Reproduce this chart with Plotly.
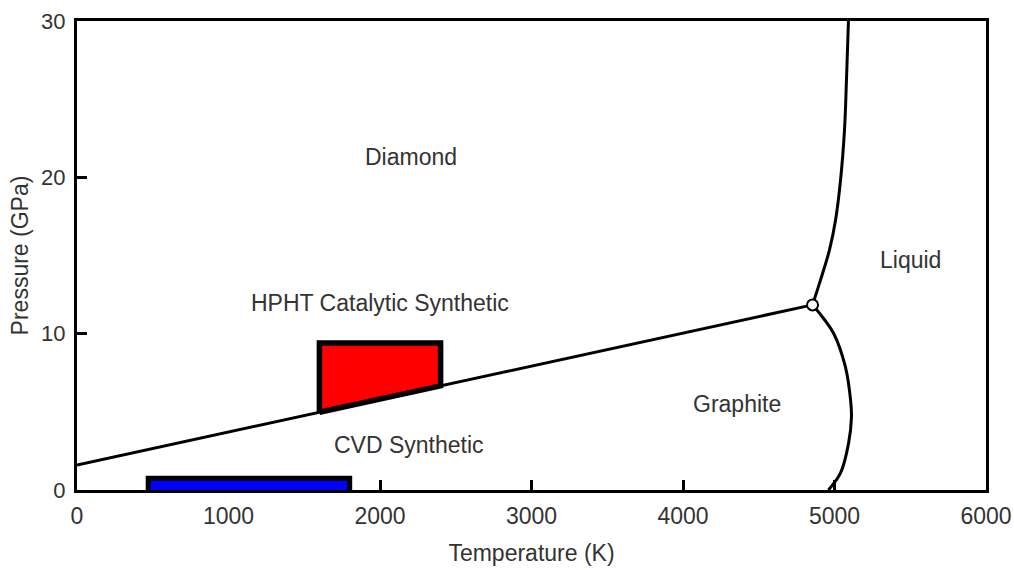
import numpy as np
import plotly.graph_objects as go

# Diamond-graphite coexistence line (T in K, P in GPa)
dg_T = [0, 4855]
dg_P = [1.6, 11.84]

# Triple point
triple_T = [4855]
triple_P = [11.84]

# Diamond-liquid melting curve
dl_T = [4855, 4908, 4967, 5007, 5040, 5066, 5079, 5092]
dl_P = [11.84, 13.44, 15.36, 17.27, 19.83, 23.03, 26.23, 30.0]

# Graphite-liquid melting curve
gl_T = [4855, 4894, 4993, 5072, 5106, 5112, 5093, 5040, 4960]
gl_P = [11.84, 11.39, 10.04, 7.87, 5.76, 4.67, 3.0, 1.09, 0.0]

# HPHT region (bounded below by the coexistence line)
hpht_T = [1600, 2400]
hpht_Ptop = 9.4

# CVD region
cvd_T = [470, 1800]
cvd_P = [0.0, 0.75]

# Region labels
label_text = ["Diamond", "Liquid", "HPHT Catalytic Synthetic", "Graphite", "CVD Synthetic"]
label_T = [2207, 5502, 2000, 4359, 2191]
label_P = [21.3, 14.7, 11.96, 5.5, 2.88]

x_ticks = [0, 1000, 2000, 3000, 4000, 5000, 6000]
y_ticks = [0, 10, 20, 30]

FONT = "Liberation Sans, Arial, sans-serif"
TXT = "#333333"

fig = go.Figure()

# HPHT polygon
hb0 = float(np.interp(hpht_T[0], dg_T, dg_P))
hb1 = float(np.interp(hpht_T[1], dg_T, dg_P))
fig.add_trace(go.Scatter(
    x=[hpht_T[0], hpht_T[0], hpht_T[1], hpht_T[1], hpht_T[0]],
    y=[hb0, hpht_Ptop, hpht_Ptop, hb1, hb0],
    mode="lines", fill="toself", fillcolor="#ff0000",
    line=dict(color="black", width=5.5), hoverinfo="skip"))

# CVD box: fill, then outline on three sides (bottom sits on the axis)
fig.add_trace(go.Scatter(
    x=[cvd_T[0], cvd_T[0], cvd_T[1], cvd_T[1], cvd_T[0]],
    y=[cvd_P[0], cvd_P[1], cvd_P[1], cvd_P[0], cvd_P[0]],
    mode="lines", fill="toself", fillcolor="#0000ff",
    line=dict(color="rgba(0,0,0,0)", width=0), hoverinfo="skip"))
fig.add_trace(go.Scatter(
    x=[cvd_T[0], cvd_T[0], cvd_T[1], cvd_T[1]],
    y=[cvd_P[0], cvd_P[1], cvd_P[1], cvd_P[0]],
    mode="lines", line=dict(color="black", width=5), hoverinfo="skip"))

# phase boundaries
fig.add_trace(go.Scatter(x=dg_T, y=dg_P, mode="lines",
                         line=dict(color="black", width=3), hoverinfo="skip"))
fig.add_trace(go.Scatter(x=dl_T, y=dl_P, mode="lines",
                         line=dict(color="black", width=3, shape="spline", smoothing=1.0),
                         hoverinfo="skip"))
fig.add_trace(go.Scatter(x=gl_T, y=gl_P, mode="lines",
                         line=dict(color="black", width=3, shape="spline", smoothing=1.0),
                         hoverinfo="skip"))
fig.add_trace(go.Scatter(x=triple_T, y=triple_P, mode="markers",
                         marker=dict(size=11, color="white", line=dict(color="black", width=2)),
                         hoverinfo="skip"))

for t, xv, yv in zip(label_text, label_T, label_P):
    fig.add_annotation(x=xv, y=yv, text=t, showarrow=False,
                       font=dict(family=FONT, size=23, color=TXT),
                       xanchor="center", yanchor="middle")

axis_common = dict(showline=True, linecolor="black", linewidth=3, mirror=True,
                   ticks="inside", ticklen=10, tickwidth=3, tickcolor="black",
                   showgrid=False, zeroline=False, automargin=False,
                   layer="below traces")

fig.update_layout(
    width=1014, height=570,
    margin=dict(l=77, r=28, t=21, b=80),
    plot_bgcolor="white", paper_bgcolor="white",
    showlegend=False,
    xaxis=dict(range=[0, 6000], tickvals=x_ticks,
               ticktext=[str(v) for v in x_ticks],
               tickfont=dict(family=FONT, size=23, color=TXT),
               ticklabelstandoff=3,
               title=dict(text="Temperature (K)", font=dict(family=FONT, size=23, color=TXT),
                          standoff=18),
               **axis_common),
    yaxis=dict(range=[0, 30], tickvals=y_ticks,
               ticktext=[str(v) for v in y_ticks],
               tickfont=dict(family=FONT, size=22, color=TXT),
               ticklabelstandoff=4,
               title=dict(text="Pressure (GPa)", font=dict(family=FONT, size=23, color=TXT),
                          standoff=7),
               **axis_common),
)

fig.write_html("out.html")
